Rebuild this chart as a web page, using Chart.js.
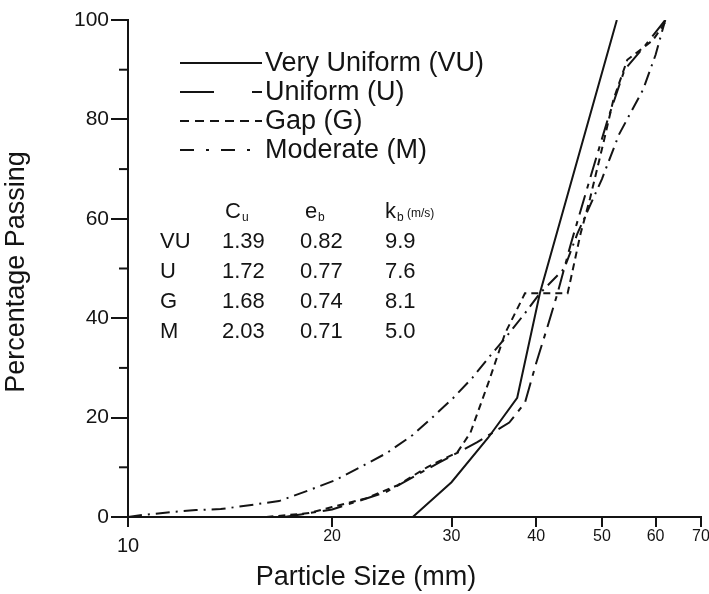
<!DOCTYPE html>
<html>
<head>
<meta charset="utf-8">
<script src="https://cdn.jsdelivr.net/npm/chart.js@4.4.1/dist/chart.umd.min.js"></script>
<style>
    html, body { margin: 0; padding: 0; background: #fff; }
</style>
</head>
<body>
<canvas id="gradationChart" width="709" height="594"></canvas>
<script>
// axis ticks
const xTicks = [10, 20, 30, 40, 50, 60, 70];
const yTicks = [0, 20, 40, 60, 80, 100];

// series names
const seriesNames = ["Very Uniform (VU)", "Uniform (U)", "Gap (G)", "Moderate (M)"];

// Very Uniform
const vuSize = [26.3, 30, 34, 37.5, 40.5, 52.6];
const vuPass = [0, 7, 16, 24, 45, 100];

// Uniform
const uSize = [17, 20, 24, 28.8, 32.7, 36.5, 38.5, 40, 41.5, 43, 45, 48, 51, 54, 58, 62];
const uPass = [0, 1.5, 5, 11, 15, 19, 23, 31, 38, 45, 55, 68, 80, 90, 95, 100];

// Gap
const gSize = [16, 18.5, 20, 22.5, 25, 27.6, 30.6, 32, 34, 36, 38.5, 44.5, 45, 46.5, 48, 50.2, 52, 54.5, 57, 59.5, 62.3];
const gPass = [0, 0.8, 2, 3.8, 6.4, 10, 13, 17, 27, 37, 45, 45, 48, 57, 64, 75, 84, 92, 94, 96, 100];

// Moderate
const mSize = [10, 10.5, 11.6, 12.6, 13.7, 14.8, 16.7, 18.5, 20.2, 22, 24.1, 26.3, 28.1, 30.2, 32.2, 34, 36.5, 38.5, 40.5, 44, 46, 50, 53, 57.5, 60, 62];
const mPass = [0, 0.4, 1, 1.4, 1.6, 2.2, 3.2, 5.4, 7.4, 10, 12.9, 16.5, 20, 24, 28, 32, 37, 41, 45, 50, 57, 68, 77, 86, 93, 100];

// table in the plot
const tableRows = ["VU", "U", "G", "M"];
const tableCu = ["1.39", "1.72", "1.68", "2.03"];
const tableEb = ["0.82", "0.77", "0.74", "0.71"];
const tableKb = ["9.9", "7.6", "8.1", "5.0"];

const FONT = "'Liberation Sans', Arial, Helvetica, sans-serif";
const INK = "#141414";

function pts(xs, ys) {
    return xs.map((x, i) => ({ x: x, y: ys[i] }));
}

const dashes = [[], [20, 7, 5, 7], [7, 5], [14, 6, 2, 6]];
const legendDashes = [[], [34, 38, 10, 100], [9, 6], [14, 12, 3, 12]];

const datasets = [
    pts(vuSize, vuPass),
    pts(uSize, uPass),
    pts(gSize, gPass),
    pts(mSize, mPass)
].map((d, i) => ({
    label: seriesNames[i],
    data: d,
    borderColor: INK,
    borderWidth: 2,
    borderDash: dashes[i],
    pointRadius: 0,
    tension: 0,
    fill: false
}));

const extras = {
    id: "extras",
    afterDraw(chart) {
        const ctx = chart.ctx;
        const ys = chart.scales.y;
        const area = chart.chartArea;
        ctx.save();

        // minor y ticks
        ctx.strokeStyle = INK;
        ctx.lineWidth = 2;
        for (let v = 10; v < 100; v += 20) {
            const py = ys.getPixelForValue(v);
            ctx.beginPath();
            ctx.moveTo(area.left - 9, py);
            ctx.lineTo(area.left, py);
            ctx.stroke();
        }

        // axis titles
        ctx.fillStyle = INK;
        ctx.font = "27px " + FONT;
        ctx.textAlign = "center";
        ctx.textBaseline = "middle";
        ctx.fillText("Particle Size (mm)", 366, 578);
        ctx.save();
        ctx.translate(17, 272);
        ctx.rotate(-Math.PI / 2);
        ctx.fillText("Percentage Passing", 0, 0);
        ctx.restore();

        // legend
        const legY = [63, 92, 121, 150];
        ctx.textAlign = "left";
        ctx.font = "27px " + FONT;
        seriesNames.forEach((name, i) => {
            ctx.setLineDash(legendDashes[i]);
            ctx.beginPath();
            ctx.moveTo(180, legY[i]);
            ctx.lineTo(262, legY[i]);
            ctx.stroke();
            ctx.setLineDash([]);
            ctx.fillText(name, 265, legY[i] + 1);
        });

        // table
        const colX = [160, 222, 300, 385];
        const headY = 212;
        ctx.font = "22px " + FONT;
        ctx.fillText("C", colX[1] + 3, headY);
        ctx.fillText("e", colX[2] + 5, headY);
        ctx.fillText("k", colX[3], headY);
        ctx.font = "12px " + FONT;
        ctx.fillText("u", colX[1] + 20, headY + 6);
        ctx.fillText("b", colX[2] + 18, headY + 6);
        ctx.fillText("b", colX[3] + 12, headY + 6);
        ctx.fillText("(m/s)", colX[3] + 22, headY + 2);
        ctx.font = "22px " + FONT;
        tableRows.forEach((r, i) => {
            const ty = 242 + i * 30;
            ctx.fillText(r, colX[0], ty);
            ctx.fillText(tableCu[i], colX[1], ty);
            ctx.fillText(tableEb[i], colX[2], ty);
            ctx.fillText(tableKb[i], colX[3], ty);
        });
        ctx.restore();
    }
};

new Chart(document.getElementById("gradationChart").getContext("2d"), {
    type: "line",
    data: { datasets: datasets },
    options: {
        responsive: false,
        animation: false,
        devicePixelRatio: 1,
        layout: { padding: { top: 20, right: 8, bottom: 0, left: 0 } },
        plugins: {
            legend: { display: false },
            tooltip: { enabled: false }
        },
        scales: {
            x: {
                type: "logarithmic",
                min: 10,
                max: 70,
                afterBuildTicks: (s) => { s.ticks = xTicks.map(v => ({ value: v })); },
                afterFit: (s) => { s.height = 77; s.paddingLeft = 0; s.paddingRight = 0; },
                border: { display: true, color: INK, width: 2 },
                grid: { drawOnChartArea: false, drawTicks: true, tickLength: 10, color: INK, lineWidth: 2 },
                ticks: {
                    color: INK,
                    padding: 0,
                    maxRotation: 0,
                    autoSkip: false,
                    font: (c) => (c.tick && c.tick.value === 10)
                        ? { family: FONT, size: 20, lineHeight: 0.65 }
                        : { family: FONT, size: 16 },
                    callback: (v) => v === 10 ? ["", "10"] : String(v)
                }
            },
            y: {
                min: 0,
                max: 100,
                afterBuildTicks: (s) => { s.ticks = yTicks.map(v => ({ value: v })); },
                afterFit: (s) => { s.width = 128; },
                border: { display: true, color: INK, width: 2 },
                grid: { drawOnChartArea: false, drawTicks: true, tickLength: 17, color: INK, lineWidth: 2 },
                ticks: {
                    color: INK,
                    padding: 2,
                    font: { family: FONT, size: 21 }
                }
            }
        }
    },
    plugins: [extras]
});
</script>
</body>
</html>
